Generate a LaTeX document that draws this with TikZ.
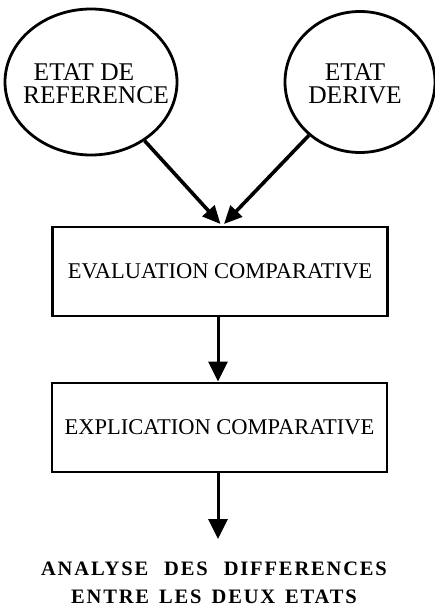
\documentclass[tikz,border=0pt]{standalone}
\usepackage{fontspec}
\setmainfont{Liberation Serif}
\usetikzlibrary{arrows.meta,shapes.geometric}
\begin{document}
\begin{tikzpicture}[x=1pt,y=-1pt,
  state/.style={ellipse,draw,line width=2.8pt,inner sep=0pt},
  statetext/.style={align=center,inner sep=0pt,font=\fontsize{25.5}{23}\selectfont},
  stage/.style={rectangle,draw,line width=2.8pt,minimum width=335pt,minimum height=89pt,
    inner sep=0pt,font=\fontsize{22.5}{24}\selectfont},
  flow/.style={line width=3pt,-{Triangle[length=20pt,width=19pt]}},
  feed/.style={line width=3.6pt,-{Triangle[length=18pt,width=16pt]}},
  result/.style={align=center,font=\bfseries\fontsize{20.5}{28}\selectfont\addfontfeatures{LetterSpace=9}}]
\useasboundingbox (0,0) rectangle (434,607);
\fill[white] (0,0) rectangle (434,607);

% input states
\node[state,minimum width=172pt,minimum height=146pt] (ref) at (91,82) {};
\node[statetext] (reftext) at (96,84) {ETAT DE\hspace*{24pt}\\REFERENCE};
\node[state,minimum width=150pt,minimum height=141pt] (der) at (360,82) {};
\node[statetext] (dertext) at (355,84) {ETAT\\DERIVE};

% processing stages
\node[stage] (eval) at (220,271.5) {EVALUATION COMPARATIVE};
\node[stage] (expl) at (219.5,427.5) {EXPLICATION COMPARATIVE};

% outcome
\node[result] (out) at (214,583) {ANALYSE\hspace{16pt}DES\hspace{16pt}DIFFERENCES\\ENTRE\hspace{10pt}LES\hspace{10pt}DEUX\hspace{10pt}ETATS};

\coordinate (tipL) at (220.5,224);
\coordinate (tipR) at (224,224);
\coordinate (tipOut) at (218,539);

\draw[feed] (ref) -- (tipL);
\draw[feed] (der) -- (tipR);
\draw[flow] (eval.south -| 218,0) -- (expl.north -| 218,0);
\draw[flow] (expl.south -| 218,0) -- (tipOut);
\end{tikzpicture}
\end{document}
